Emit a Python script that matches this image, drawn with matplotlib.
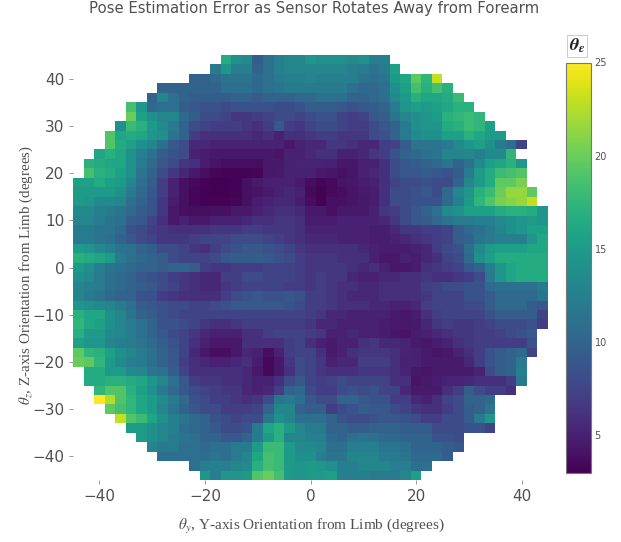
#!/usr/bin/python3

import numpy as np
import matplotlib
matplotlib.use('Agg')
import matplotlib.pyplot as plt

################################################
# Data

# cell centres, degrees
theta_y = list(range(-44, 46, 2))
theta_z = list(range(44, -46, -2))

x_ticks = [-40, -20, 0, 20, 40]
y_ticks = [-40, -30, -20, -10, 0, 10, 20, 30, 40]
cbar_ticks = [5, 10, 15, 20, 25]

# index of the first filled column for each row, top row first
first_col = [14, 13, 11, 8, 7, 5, 5, 4, 3, 3, 2, 1, 1, 0, 0, 0, 0, 0, 0, 0, 0, 0, 0,
	0, 0, 0, 0, 0, 0, 0, 0, 0, 0, 1, 1, 2, 2, 3, 4, 5, 6, 7, 8, 11, 12]

# mean error per row, top row (z = 44) first
error_rows = [
	[16.5,14,13.5,9.5,11,12.5,13,13,14.5,14,14,14,13.5,14,12.5,12.5],
	[12,14.5,12.5,12.5,10,11,12.5,13,13,13,13,13,13,12.5,12,11.5,12,15.5],
	[10,10,10.5,11.5,11.5,11.5,10.5,11,12,12.5,12.5,13,12.5,12.5,12.5,12.5,11.5,11,11.5,15,16,19.5,17.5,23],
	[10,10,10,10,10,10,11,11,11,10.5,11,11.5,12,12,12,12,12,12,11,10.5,10.5,11,14,15.5,18.5,17,18.5,17],
	[10,13,11,10,9.5,9.5,9.5,9.5,10,10,9.5,10,10,10,10.5,10.5,11,11,11,10,10,10.5,11,13.5,15,17,16,16,16.5,18],
	[18.5,14.5,10.5,11,11,9.5,9,8.5,8.5,8,8.5,8.5,8.5,8.5,8,8,8.5,9.5,9.5,9.5,9,8.5,9,9.5,10,12,14.5,15.5,15,15.5,16,17,17],
	[20,15.5,14,13,13,10.5,9.5,8,8,7.5,6.5,6.5,7,7.5,8,8,7.5,8,8.5,8.5,7.5,7,7.5,9,9.5,11.5,13,14,14.5,15,17,17.5,18,17.5],
	[14,18,17,15,13.5,12,10,8,7.5,7,7,7,6.5,6,7,9,7,6.5,7.5,8,8,7.5,7,7,8,9,10,12,14,14.5,14.5,16.5,17,18,17.5,15.5],
	[19,16,16.5,16,14.5,14,11.5,10,7,6,6,6,6,6,5.5,6,5,6,6,6.5,7,7,6.5,6.5,6.5,8,8.5,10,12,13.5,14,14,15.5,15.5,17,16,15,15],
	[19,16.5,15.5,14,13,11,9,8,5.5,5.5,5.2,5.2,5.2,5.2,5.2,5.2,5.2,4.5,5.2,5.5,5.5,6.5,6.5,6,5.5,5.5,7,7.5,9.5,11.5,11.5,11.5,12,13.5,14.5,15.5,14,12,11,7.5],
	[16,17,16,14,12.5,11,9.5,8.5,8,5,4.8,4.5,4.5,4.5,4.5,4.5,4.5,4.2,5,5,5.5,6,6,5,5,5.5,6.5,7,8.5,10,10.5,11,11.5,13,13,13,12.5,13.5,13.5,17.5],
	[17,16.5,16,16,14,12,10.5,9,8,6.5,6,4.8,4.2,3.8,3.8,3.8,3.8,4.5,4.5,5,5.2,5.2,5.2,5,4.4,4.4,5,5,6,8,9,9.5,10,10.5,11.5,10,11,13.5,15.5,16,17,14.5],
	[18.5,17,16.5,15.5,14,11.5,10,8,6.5,5.5,4.5,3.8,3.4,3.2,3.2,3.2,3.4,4.5,4.6,5,5,5,4.5,4.3,4,4.3,5,5.5,6,8,9,9,9.5,9,8.5,9.5,12,15,16.5,18,18.5,19],
	[15.5,15.5,16.5,15.5,15,13,11,9.5,7,5,4,3.5,3.2,3,3,3.2,4,4.6,5,5,5,4.6,3.8,3.4,3.6,4.2,4.4,4.8,5,6,7.5,8,8,8.5,8,8,10,13,15,16.5,19.5,19.5,20.5],
	[15,15,15,15,14,12,10.5,9,7,5,4,3.3,3.1,3,3,3.2,4,4.2,4.6,5,5.5,5,3.6,3.1,3.6,3.8,4.2,4.6,4.8,6,8,8,8.5,9,8,10.5,13,14.5,17,18,20,21.5,21.5,19.5],
	[15,14.5,13.5,13.5,13,11,10,8.5,6.5,4.8,4,3.3,3.1,3.1,3.2,3.4,4,4.8,5.2,5.5,5.5,4.8,3.8,3.1,4,4,4.2,4.5,4.8,6,8,8,8.5,8.5,8.5,10.5,12.5,15,17.5,19,20.5,21,21.5,23],
	[13.5,13.5,12.5,12,11.5,10.5,9.5,8.5,6.5,4.5,4,3.8,3.8,4,4,4.5,4.5,5,5.5,6,6,5.5,4.5,4.5,4,4.5,4.5,4.5,5,6.5,7,8,9,10,11,13.5,14,15.5,15.5,15.5,16.5,17,17,16.5,14.5],
	[13,13,12,11.5,11,9.5,9,7.5,6,4.5,5,4.5,4.5,5,5,5,5.5,6,6,6.5,6.5,6,4.8,4.8,4.8,5,5,5,5,5.5,6.5,8,9,9.5,10.5,11.5,12,12,12.5,12.5,13.5,14,14.5,15,14.5],
	[12,12,11.5,11.5,10.5,8.5,8,7,6.5,6,6,6,6,6.5,6.5,6.5,7,7,6.5,6.5,6.5,6,5,5,5,5,5,5,4.8,4.8,5.5,6.5,6.5,7,7,7.5,9.5,10.5,11,12,13,14,14.5,15.5,15.5],
	[12,12,11.5,11,10,9,8,7.5,6.5,6.5,6.5,7,7.5,7.5,7.5,8,8,8,7.5,7,6.5,6,5.5,5.5,5.5,5,5,5,4.8,4.8,5,5.5,6,6.5,7,7.5,9.5,10,11.5,12,12.5,12.5,12.5,14.5,16],
	[15,14.5,13.5,12.5,11.5,11,10,9.5,8,8,7.5,6.5,6,7,8,8.5,9,9,8.5,8,7.5,6.5,6,6,6,6,6,5.5,5,4.8,4.8,4.8,5,5.5,7,8,8.5,11,13.5,15,15.5,15.5,15.5,16,16],
	[17,16.5,16,15,12,11,10.5,10,9.5,8,7.5,7.5,7.5,8,9,9.5,9.5,9.5,9,8.5,8,7,6.5,6.5,6.5,6,6,6,5,4.5,4.5,5,4.8,5.5,6,7.5,8,10.5,14,15.5,16.5,16.5,16.5,16.5,16.5],
	[15,14,12.5,11.5,11,10.5,10,10,9.5,10,10,9.5,7,6.5,6.5,7,7,7,7.5,7.5,7.5,7,6.5,6.5,6.5,6.5,6,5.5,6,5,4.4,4.4,4.8,6,6.5,7,7.5,9,10,12.5,14.5,16,16.5,16.5,16.5],
	[14,13.5,12,11,10.5,10,9,8.5,8,7,6.5,6,5.5,5.5,7,7,8,8,7.5,7.5,7.5,7,6.5,7,6.5,6.5,5.5,5,5,5.5,5.5,6,6,6.5,6,6,6.5,7,8,12,14.5,16,16.5,16.5,16.5],
	[13,12.5,12,11,10.5,10,9.5,9,8,7.5,6.5,6,5.5,5.5,6.5,7,7.5,7.5,7.5,7.5,7,7,6.5,7,6.5,6,6,5.5,5.5,6,6,6,6,7,7.5,8,8,8.5,8.5,10.5,11,11,11,11,12],
	[13,12,11.5,10.5,10,10,8.5,8.5,7,6.5,6,6,6,6,7,8,8.5,9,8.5,8.5,9,8.5,7,7,6.5,6,5.5,5.5,5.5,6,6,6,6,6.5,7.5,7.5,7.5,8.5,8.5,9.5,10.5,10.5,10.5,10.5,11.5],
	[14.5,14,13.5,13,12,11,9.5,9,8.5,8,8,7.5,7.5,8,8.5,9,9,9,9,9,8.5,8,7,7,6.5,6,6,6,5.5,5.5,5,5,5.5,7,7.5,7.5,7.5,8,8,9.5,10.5,10.5,10.5,9.5,9],
	[17,16,16,14,13,11.5,10,9.5,8.5,8,7.5,7.5,7.5,7.5,7.5,7.5,7.5,7.5,7.5,7.5,7.5,7.5,7,6.5,5.5,5.5,5,5,5,5,4.6,4.4,4.8,6,7,7.5,7.5,7.5,7.5,8.5,9.5,9.5,9.5,9.5,7.5],
	[17.5,16,15.5,14,13,12,11,10,8.5,8.5,8,7.5,6.5,6,6,6.5,7,7,7,7,7,7,6.5,5.5,5.5,5,5,5,5,4.8,4.6,4.5,4.6,5.4,6.5,7,6.5,6.5,7,7.5,8,8,8,8.5,7],
	[17,15,15,13.5,13,12,11,10,9,8,7.5,6.5,5.5,5,5,5,6,6,7,7.5,7.5,7.5,7,6.5,5,5,5.5,5,5,4.8,4.4,4.2,4.8,5,5.5,6,6.5,6.5,7,7,7.5,8,8.5,9],
	[15.5,14.5,14.5,13,12.5,12,11.5,10.5,9.5,8.5,7.5,6,5,4.5,4.5,4.5,6,6,6,6,7,7.5,6,5,4.6,5,5,6,6.5,5.5,5.5,5.2,4.6,4.4,4.8,5.2,6,6.5,7,7,7,7,7,8.5],
	[19.5,17.5,17,15.5,14,13,12,11,10,9,7.5,5.5,4.5,3.9,3.9,4.5,5.5,5,3.8,5,7,7.5,7.5,6,4.6,5,6,6.5,6.5,6.5,6,5.2,5,4.6,4.2,4.4,5.2,6,7,8.5,9.5,10,10.5,7.5],
	[20,19.5,17.5,15,13.5,12.5,12,11,10,9,7,6,5.5,5,5,5.5,6,4.8,3.5,4.5,6.5,8,7.5,6.5,5,5.5,5.5,7,7,7,6,5,5,4.6,4.6,4.6,4.6,5.5,7,8.5,9.5,10,12],
	[16.5,16.5,15,15,13.5,13,11.5,11,9.5,7.5,6,6,6,6,6,5.5,4.5,3.5,4.5,6,8,7.5,6.5,6,6,6,6.5,6.5,6.5,6,5.2,4.4,4.2,4.6,4.6,4.6,4.6,5.2,8,9.5,10,12.5],
	[16.5,16.5,17,17,16.5,16,14.5,13,11,9,7,6.5,6.5,6,6,5.5,5,5,6,8,9,7.5,7,7.5,8,7.5,7.5,7.5,7.5,6,6,4.2,4.5,4.8,5.2,5.2,5.5,6,6,6,7,12],
	[17.5,19,19,17,15.5,14,12,10.5,9,8,7.5,7,6.5,6.5,5.5,5,5.5,7,10,10.5,8,7,7,8,8.5,8,8.5,7.5,7.5,5.5,4.6,4.6,4.6,6,7,9.5,8,7,7,6],
	[25,22.5,19,17.5,16,15,13.5,12,10.5,8.5,8,7,7,6.5,6,6.5,8,11.5,12,11,9,8,8,10,10,9,8.5,8.5,7,7,5.5,5,6,7.5,8,10,10,10.5],
	[19.5,18.5,17.5,16,15,13,11.5,10,9,8,8,7,7,7,7.5,10,13,13,10,9.5,9.5,7,8,8.5,9.5,9,9,8,7.5,6.5,6,6,7,8,9.5,10,11.5],
	[23,19,18,16,14,12.5,11.5,10.5,10,8.5,8,7.5,8,8,11.5,14,13,11,11,11,10,8.5,8,8,8.5,9,9,8.5,8,7,7,8,8,9.5,12,14.5],
	[15,15,14,13,12.5,11,10.5,10,9,8,8,8.5,12,16,17,15,13,12,12,10,10,9.5,9.5,10,10,10,9.5,9.5,9.5,8,8,8,8.5,8.5,7.5],
	[15,14,13,12,11.5,11,10,10,9,9,10,12,15,17,13,13,12.5,12.5,10.5,10,11,11.5,11,10.5,10.5,10,10,10,8.5,8.5,8],
	[13,12,12,11,11,10.5,11,11,12,12,15,18,18,15,13.5,13.5,13,11,11,12.5,12.5,12.5,11.5,11.5,11,10,10,10,9.5,9],
	[11,11,11,11,11,11.5,11,12,13,16,18.5,18,15,14,14,12.5,11.5,11.5,13,13,13,12,12,11.5,10.5,10.5,10.5,9.5],
	[11,12.5,12.5,12.5,13,13.5,17,18.5,18,15,14.5,15,14.5,14,12.5,12.5,13,13,13,12.5,12.5,11,11],
	[14.5,12.5,14.5,14.5,15,19,20,18.5,15,14.5,15,15,15.5,12.5,12.5,12.5,12,12,12,13,15.5],
]

################################################
# Build the grid, blank outside the circle

grid = np.full((len(theta_z), len(theta_y)), np.nan)
for j, row in enumerate(error_rows):
	grid[j, first_col[j]:first_col[j] + len(row)] = row

################################################
# Drawing

plt.rcParams['font.family'] = ['DejaVu Sans']
plt.rcParams['mathtext.fontset'] = 'stix'
text_color = '#505050'

W = 621.0
H = 542.0
fig = plt.figure(figsize=(W / 100, H / 100), dpi=100)
ax = fig.add_axes([73 / W, 1 - 480 / H, 475 / W, 425 / H])

mesh = ax.imshow(grid, cmap='viridis', vmin=3, vmax=25, aspect='auto', interpolation='nearest',
	extent=[-45, 45, -45, 45], origin='upper')

for s in ax.spines.values():
	s.set_visible(False)

ax.set_xlim(-45, 45)
ax.set_ylim(-45, 45)
ax.set_xticks(x_ticks)
ax.set_yticks(y_ticks)
ax.set_xticklabels(['\u2212{}'.format(abs(v)) if v < 0 else str(v) for v in x_ticks])
ax.set_yticklabels(['\u2212{}'.format(abs(v)) if v < 0 else str(v) for v in y_ticks])
ax.tick_params(axis='both', labelsize=11, labelcolor=text_color, length=3.2, width=0.7, color='#999999', pad=3)

fig.text(314 / W, 1 - 8 / H, 'Pose Estimation Error as Sensor Rotates Away from Forearm',
	ha='center', va='center', fontsize=10.7, color=text_color)
fig.text(311 / W, 1 - 527 / H, r'$\theta_y$, Y-axis Orientation from Limb (degrees)',
	ha='center', va='center', fontsize=11, family='Liberation Serif', color=text_color)
fig.text(26 / W, 1 - 275 / H, r'$\theta_z$, Z-axis Orientation from Limb (degrees)',
	ha='center', va='center', rotation=90, fontsize=10.8, family='Liberation Serif', color=text_color)

cax = fig.add_axes([566 / W, 1 - 472.5 / H, 24.5 / W, 410 / H])
cbar = fig.colorbar(mesh, cax=cax, ticks=cbar_ticks)
cbar.ax.tick_params(length=0, labelsize=7, labelcolor=text_color, pad=3)
cbar.outline.set_edgecolor('#777777')
cbar.outline.set_linewidth(0.8)

fig.text(577 / W, 1 - 46 / H, r'$\mathbfit{\theta_\epsilon}$', ha='center', va='center', fontsize=13,
	color='#222222', bbox=dict(boxstyle='square,pad=0.12', fc='white', ec='#cccccc', lw=0.7))

fig.savefig('out.png', dpi=100)
